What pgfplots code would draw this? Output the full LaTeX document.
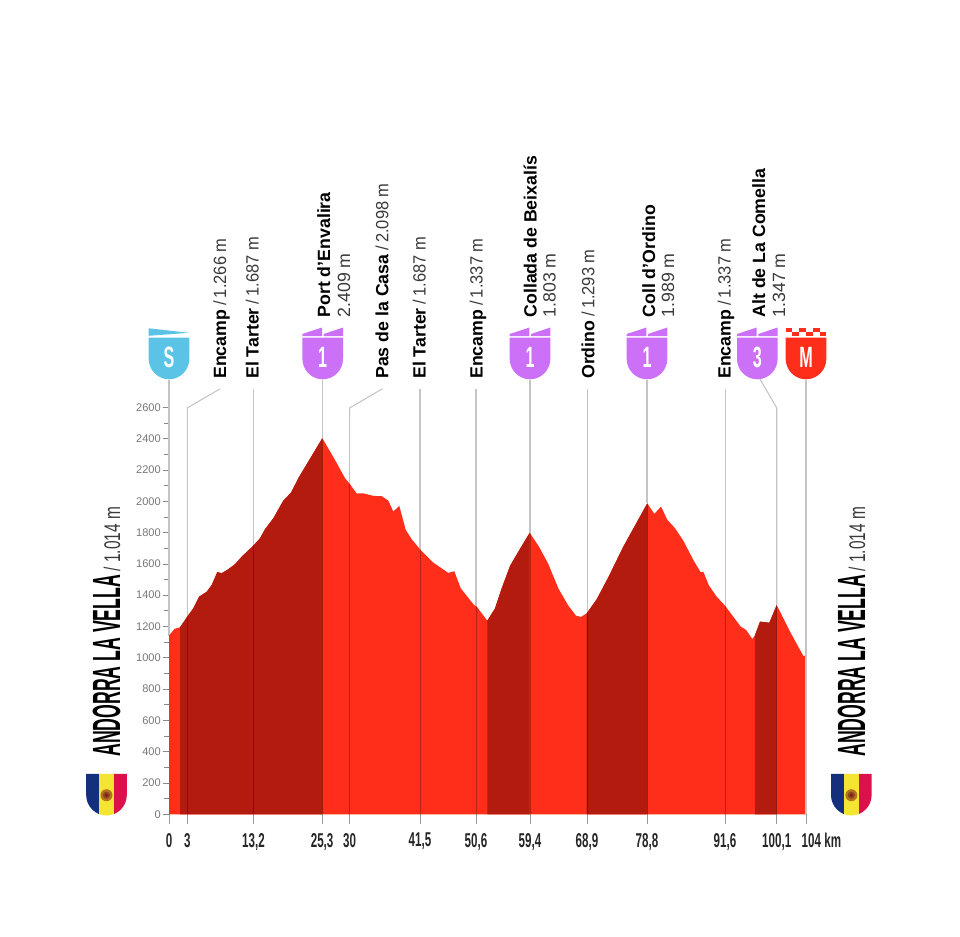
\documentclass[border=0pt]{standalone}
\usepackage{fontspec}
\usepackage{pgfplots}
\usepackage{pgfplotstable}
\pgfplotsset{compat=1.18}
\setmainfont{Liberation Sans}
\newfontfamily\condb[FakeStretch=0.45]{Liberation Sans}
\newfontfamily\condl[FakeStretch=0.68]{Liberation Sans}
\newfontfamily\tickf[FakeStretch=0.58]{Liberation Sans}
\newfontfamily\badgef[FakeStretch=0.55]{Liberation Sans}
\newfontfamily\elevf[FakeStretch=0.93]{Liberation Sans}
\definecolor{redl}{HTML}{FF2E1A}
\definecolor{redd}{HTML}{B21B0E}
\definecolor{guide}{HTML}{C4C4C4}
\definecolor{xtickc}{HTML}{9A9A9A}
\definecolor{ticklab}{HTML}{777777}
\definecolor{badgeblue}{HTML}{5BC4E6}
\definecolor{badgepurple}{HTML}{CB70F7}
\definecolor{flagblue}{HTML}{14307C}
\definecolor{flagyellow}{HTML}{F3E532}
\definecolor{flagred}{HTML}{DE104C}
\definecolor{emblem}{HTML}{B9701F}
\definecolor{elevc}{HTML}{3A3A3A}

\pgfplotstableread{
km m
0 1141
0.87 1184
1.80 1195
3.05 1267
3.97 1316
4.90 1390
6.16 1422
6.97 1465
7.89 1548
8.60 1540
9.68 1566
10.78 1598
11.87 1646
13.88 1721
14.86 1764
15.67 1821
17.03 1891
18.66 2004
19.92 2055
21.11 2147
25.03 2403
27.10 2264
28.74 2147
29.55 2109
30.65 2049
31.72 2051
33.36 2034
34.73 2032
35.81 2004
36.62 1934
37.60 1970
37.99 1913
38.65 1817
39.63 1757
40.98 1693
43.15 1608
45.60 1542
46.58 1553
47.63 1444
49.80 1337
50.24 1327
51.97 1237
53.23 1316
54.32 1444
55.68 1587
57.03 1678
58.89 1799
60.46 1706
61.93 1599
63.56 1444
65.19 1333
66.45 1269
67.27 1261
68.20 1284
69.83 1374
71.72 1514
74.17 1710
78.09 1987
79.23 1919
80.33 1966
81.36 1881
82.61 1828
83.97 1748
85.60 1625
86.81 1546
87.23 1550
88.16 1461
89.42 1390
90.78 1333
93.34 1199
94.21 1178
95.24 1120
95.68 1146
96.49 1231
98.01 1224
99.22 1337
101.39 1167
103.56 1012
104 1012
}\profile

\pgfplotstableread{
km m
1.80 1195
3.05 1267
3.97 1316
4.90 1390
6.16 1422
6.97 1465
7.89 1548
8.60 1540
9.68 1566
10.78 1598
11.87 1646
13.88 1721
14.86 1764
15.67 1821
17.03 1891
18.66 2004
19.92 2055
21.11 2147
25.03 2403
}\climba
\pgfplotstableread{
km m
51.97 1237
53.23 1316
54.32 1444
55.68 1587
57.03 1678
58.89 1799
}\climbb
\pgfplotstableread{
km m
68.20 1284
69.83 1374
71.72 1514
74.17 1710
78.09 1987
}\climbc
\pgfplotstableread{
km m
95.68 1146
96.49 1231
98.01 1224
99.22 1337
}\climbd

% shield outline, centred on x=0, in reference pixels
\def\shieldpath{(-20.3,337.7) -- (20.3,337.7) -- (20.3,359) .. controls (20.3,370) and (11.2,379.3) .. (0,379.3) .. controls (-11.2,379.3) and (-20.3,370) .. (-20.3,359) -- cycle}
\newcommand\purplebadge[2]{%
  \begin{scope}[shift={(#1,0)}]
    \fill[badgepurple] \shieldpath;
    \fill[badgepurple] (-20.3,336) -- (-20.3,334) -- (-0.7,327.5) -- (-0.7,336) -- cycle;
    \fill[badgepurple] (1,336) -- (1,334) -- (20.3,327.5) -- (20.3,336) -- cycle;
    \node[white,font=\badgef\bfseries\fontsize{22}{22}\selectfont,inner sep=0pt] at (0,357.5) {#2};
  \end{scope}}
\newcommand\flagshield[1]{%
  \begin{scope}[shift={(#1,436.2)}]
    \begin{scope}
      \clip \shieldpath;
      \fill[flagblue] (-21,337) rectangle (-7.8,380);
      \fill[flagyellow] (-7.8,337) rectangle (7.6,380);
      \fill[flagred] (7.6,337) rectangle (21,380);
    \end{scope}
    \fill[emblem] (0,359) circle (6);
    \fill[emblem!70!black] (0,359) circle (3.6);
    \fill[flagred!70!black] (0,359) circle (1.8);
  \end{scope}}
% name / elevation on one rotated line
\newcommand\inl[3]{\node[rotate=90,anchor=base west,inner sep=0pt] at (#1,379)
  {\fontsize{13.3}{16}\selectfont\bfseries #2\mdseries\elevf\textcolor{elevc}{\kern0.22em/\kern0.18em#3}};}
\newcommand\twol[4]{%
  \node[rotate=90,anchor=base west,inner sep=0pt] at (#1,317.7) {\fontsize{13.3}{16}\selectfont\bfseries #2};
  \node[rotate=90,anchor=base west,inner sep=0pt,text=elevc] at (#3,317.7) {\fontsize{13.3}{16}\selectfont #4};}
\newcommand\townlabel[1]{%
  \node[rotate=90,anchor=base west,inner sep=0pt] at (#1,757)
   {\condb\bfseries\fontsize{29.5}{30}\selectfont ANDORRA LA VELLA\hspace{0.09em}\mdseries\condl\fontsize{17}{20}\selectfont\textcolor{elevc}{/ 1.014 m}};}

\begin{document}
\begin{tikzpicture}
\useasboundingbox (0,0) rectangle (720pt,-702pt);
\begin{axis}[
  at={(126.75pt,-610.725pt)}, anchor=south west,
  scale only axis, width=477.75pt, height=305.25pt,
  xmin=0, xmax=104, ymin=0, ymax=2600,
  clip=false,
  axis line style={draw=none},
  tick align=outside,
  xtick={0,2.99,13.80,25.0,29.50,40.98,50.12,58.94,68.25,78.04,90.78,99.22,104},
  xticklabels={0,3,{13,2},{25,3},30,{41,5},{50,6},{59,4},{68,9},{78,8},{91,6},{100,1},{\makebox[0pt][l]{\hspace{-3.2pt}104 km}}},
  ytick={0,200,400,600,800,1000,1200,1400,1600,1800,2000,2200,2400,2600},
  minor ytick={100,300,500,700,900,1100,1300,1500,1700,1900,2100,2300,2500},
  xtick pos=bottom, ytick pos=left,
  x tick style={draw=xtickc,line width=0.7pt},
  y tick style={draw=guide!70!black,line width=0.5pt},
  major tick length=4.5pt,
  minor tick style={draw=guide,line width=0.5pt},
  minor tick length=3.6pt,
  /pgf/number format/1000 sep={},
  /pgf/number format/assume math mode=true,
  yticklabel style={font=\fontsize{8.3}{10}\selectfont,text=ticklab,inner sep=1.5pt},
  xticklabel style={font=\tickf\bfseries\fontsize{15}{17}\selectfont,text=black!85,inner sep=0pt,yshift=-9.4pt},
]
% guide lines above the profile
\addplot[guide,line width=0.8pt] coordinates {(0,1141)(0,2775)};
\addplot[guide,line width=0.8pt] coordinates {(2.99,1260)(2.99,2596)(8.33,2718)};
\addplot[guide,line width=0.8pt] coordinates {(13.80,1715)(13.80,2718)};
\addplot[guide,line width=0.8pt] coordinates {(25.0,2403)(25.0,2775)};
\addplot[guide,line width=0.8pt] coordinates {(29.50,2109)(29.50,2596)(34.83,2718)};
\addplot[guide,line width=0.8pt] coordinates {(40.98,1693)(40.98,2718)};
\addplot[guide,line width=0.8pt] coordinates {(50.12,1327)(50.12,2718)};
\addplot[guide,line width=0.8pt] coordinates {(58.94,1799)(58.94,2775)};
\addplot[guide,line width=0.8pt] coordinates {(68.25,1284)(68.25,2718)};
\addplot[guide,line width=0.8pt] coordinates {(78.04,1987)(78.04,2775)};
\addplot[guide,line width=0.8pt] coordinates {(90.78,1333)(90.78,2718)};
\addplot[guide,line width=0.8pt] coordinates {(99.22,1337)(99.22,2596)(96.38,2788)};
\addplot[guide,line width=0.8pt] coordinates {(104,1012)(104,2775)};
% longer x ticks, 10 px below the baseline
\addplot[xtickc,line width=0.7pt] coordinates {(0,0)(0,-64)};
\addplot[xtickc,line width=0.7pt] coordinates {(2.99,0)(2.99,-64)};
\addplot[xtickc,line width=0.7pt] coordinates {(13.80,0)(13.80,-64)};
\addplot[xtickc,line width=0.7pt] coordinates {(25.0,0)(25.0,-64)};
\addplot[xtickc,line width=0.7pt] coordinates {(29.50,0)(29.50,-64)};
\addplot[xtickc,line width=0.7pt] coordinates {(40.98,0)(40.98,-64)};
\addplot[xtickc,line width=0.7pt] coordinates {(50.12,0)(50.12,-64)};
\addplot[xtickc,line width=0.7pt] coordinates {(58.94,0)(58.94,-64)};
\addplot[xtickc,line width=0.7pt] coordinates {(68.25,0)(68.25,-64)};
\addplot[xtickc,line width=0.7pt] coordinates {(78.04,0)(78.04,-64)};
\addplot[xtickc,line width=0.7pt] coordinates {(90.78,0)(90.78,-64)};
\addplot[xtickc,line width=0.7pt] coordinates {(99.22,0)(99.22,-64)};
\addplot[xtickc,line width=0.7pt] coordinates {(104,0)(104,-64)};
% profile
\addplot[fill=redl,draw=none] table[x=km,y=m] {\profile} \closedcycle;
\addplot[fill=redd,draw=none] table[x=km,y=m] {\climba} \closedcycle;
\addplot[fill=redd,draw=none] table[x=km,y=m] {\climbb} \closedcycle;
\addplot[fill=redd,draw=none] table[x=km,y=m] {\climbc} \closedcycle;
\addplot[fill=redd,draw=none] table[x=km,y=m] {\climbd} \closedcycle;
% guide lines seen through the profile
\addplot[black,opacity=0.28,line width=0.6pt] coordinates {(2.99,0)(2.99,1262)};
\addplot[black,opacity=0.28,line width=0.6pt] coordinates {(13.80,0)(13.80,1718)};
\addplot[black,opacity=0.28,line width=0.6pt] coordinates {(25.0,0)(25.0,2400)};
\addplot[black,opacity=0.28,line width=0.6pt] coordinates {(29.50,0)(29.50,2109)};
\addplot[black,opacity=0.28,line width=0.6pt] coordinates {(40.98,0)(40.98,1693)};
\addplot[black,opacity=0.28,line width=0.6pt] coordinates {(50.12,0)(50.12,1327)};
\addplot[black,opacity=0.28,line width=0.6pt] coordinates {(58.94,0)(58.94,1795)};
\addplot[black,opacity=0.28,line width=0.6pt] coordinates {(68.25,0)(68.25,1284)};
\addplot[black,opacity=0.28,line width=0.6pt] coordinates {(78.04,0)(78.04,1985)};
\addplot[black,opacity=0.28,line width=0.6pt] coordinates {(90.78,0)(90.78,1333)};
\addplot[black,opacity=0.28,line width=0.6pt] coordinates {(99.22,0)(99.22,1335)};
\addplot[guide,line width=0.8pt] coordinates {(104,0)(104,1012)};
\end{axis}
\begin{scope}[x=0.75pt,y=-0.75pt]
% badges
\begin{scope}[shift={(169,0)}]
  \fill[badgeblue] \shieldpath;
  \fill[badgeblue] (-20.3,328.3) -- (20,332.8) -- (-20.3,335.8) -- cycle;
  \node[white,font=\badgef\bfseries\fontsize{22}{22}\selectfont,inner sep=0pt] at (0,357.5) {S};
\end{scope}
\purplebadge{322.7}{1}
\purplebadge{530}{1}
\purplebadge{647}{1}
\purplebadge{757.3}{3}
\begin{scope}[shift={(806,0)}]
  \fill[redl] \shieldpath;
  \foreach \i in {0,2,4} \fill[redl] (-20.3+\i*6.77,328.2) rectangle (-20.3+\i*6.77+6.77,332.2);
  \foreach \i in {1,3,5} \fill[redl] (-20.3+\i*6.77,332.2) rectangle (-20.3+\i*6.77+6.77,336.4);
  \node[white,font=\badgef\bfseries\fontsize{22}{22}\selectfont,inner sep=0pt] at (0,357.5) {M};
\end{scope}
% place names
\inl{226}{Encamp}{1.266 m}
\inl{258.7}{El Tarter}{1.687 m}
\twol{330}{Port d’Envalira}{350}{2.409 m}
\inl{388.3}{Pas de la Casa}{2.098 m}
\inl{425.7}{El Tarter}{1.687 m}
\inl{482.7}{Encamp}{1.337 m}
\twol{536.7}{Collada de Beixalís}{555.7}{1.803 m}
\inl{594.3}{Ordino}{1.293 m}
\twol{655}{Coll d’Ordino}{674}{1.989 m}
\inl{730.7}{Encamp}{1.337 m}
\twol{765}{Alt de La Comella}{785}{1.347 m}
% start and finish town
\townlabel{120}
\townlabel{865}
\flagshield{106.5}
\flagshield{851.3}
\end{scope}
\end{tikzpicture}
\end{document}
